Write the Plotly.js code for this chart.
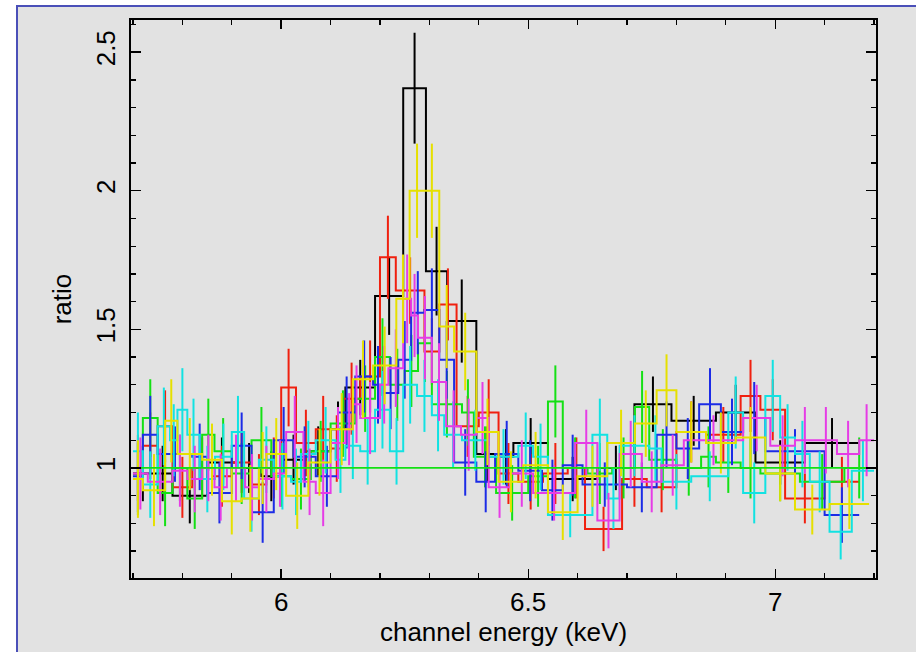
<!DOCTYPE html>
<html>
<head>
<meta charset="utf-8">
<script src="https://cdn.plot.ly/plotly-3.0.1.min.js"></script>
<style>
html,body{margin:0;padding:0;background:#ffffff;width:916px;height:652px;overflow:hidden;}
#frame{position:absolute;left:16px;top:5px;width:898px;height:645px;border-left:2px solid #4a4fb8;border-top:2px solid #4a4fb8;background:#e2e2e2;}
#chart{width:898px;height:645px;}
</style>
</head>
<body>
<div id="frame"><div id="chart"></div></div>
<script>
// ---- data (bin edges in keV, data/model ratio, 1-sigma error) ----
const blackEdges = [5.70,5.74,5.78,5.85,5.91,5.96,6.00,6.05,6.10,6.13,6.19,6.247,6.293,6.336,6.395,6.44,6.47,6.54,6.64,6.715,6.79,6.88,6.96,7.06,7.17];
const blackRatio = [0.98,0.98,0.90,1.02,1.00,0.97,1.03,1.06,1.14,1.29,1.62,2.37,1.71,1.53,1.05,1.04,1.09,0.96,1.00,1.23,1.17,1.20,1.02,1.09];
const blackErr   = [0.10,0.10,0.10,0.09,0.09,0.09,0.09,0.09,0.10,0.10,0.14,0.20,0.16,0.15,0.10,0.10,0.09,0.08,0.08,0.10,0.09,0.10,0.08,0.09];

const redEdges = [5.70,5.72,5.75,5.78,5.82,5.86,5.90,5.94,5.97,6.00,6.03,6.07,6.10,6.125,6.16,6.20,6.232,6.29,6.32,6.355,6.40,6.44,6.48,6.53,6.58,6.615,6.69,6.74,6.80,6.86,6.93,6.97,7.02,7.10,7.17];
const redRatio = [1.00,1.08,1.15,0.93,1.00,0.97,1.02,0.94,1.00,1.29,1.09,1.14,1.07,1.25,1.33,1.76,1.64,1.42,1.59,1.15,1.20,0.98,0.95,0.98,1.00,0.78,0.96,0.93,1.13,1.12,1.26,1.21,0.89,0.95];
const redErr   = [0.12,0.12,0.13,0.11,0.11,0.11,0.11,0.11,0.11,0.14,0.12,0.12,0.12,0.13,0.13,0.15,0.12,0.12,0.13,0.11,0.12,0.11,0.10,0.11,0.11,0.08,0.10,0.09,0.11,0.10,0.13,0.11,0.09,0.09];

const greenEdges = [5.70,5.72,5.75,5.78,5.81,5.84,5.865,5.90,5.94,5.98,6.02,6.06,6.10,6.15,6.19,6.22,6.25,6.277,6.305,6.366,6.39,6.435,6.50,6.54,6.57,6.62,6.67,6.716,6.745,6.80,6.85,6.88,6.93,6.97,7.05,7.14,7.20];
const greenRatio = [0.96,1.18,0.91,1.00,0.89,1.12,1.06,0.98,1.10,0.97,0.96,1.06,1.16,1.25,1.40,1.30,1.35,1.45,1.23,1.20,1.04,0.91,0.97,1.24,1.00,0.98,1.00,1.22,1.03,1.00,1.04,1.02,1.00,0.98,0.95,1.00];
const greenErr   = [0.13,0.14,0.12,0.12,0.11,0.13,0.12,0.11,0.12,0.11,0.11,0.11,0.12,0.12,0.14,0.13,0.13,0.14,0.12,0.12,0.11,0.10,0.11,0.13,0.11,0.11,0.11,0.13,0.11,0.10,0.11,0.11,0.11,0.10,0.10,0.11];

const blueEdges = [5.70,5.72,5.75,5.82,5.85,5.90,5.94,5.985,6.025,6.07,6.115,6.15,6.186,6.206,6.237,6.263,6.29,6.32,6.35,6.395,6.433,6.48,6.528,6.57,6.61,6.70,6.76,6.80,6.846,6.89,6.935,6.98,7.10,7.17];
const blueRatio = [0.97,1.12,1.05,1.04,0.91,1.08,0.84,1.10,1.04,0.97,1.20,1.33,1.30,1.27,1.39,1.56,1.57,1.39,1.02,0.95,1.05,0.99,0.92,1.01,0.94,0.93,1.12,1.07,1.23,1.13,1.18,1.06,0.83];
const blueErr   = [0.13,0.14,0.10,0.12,0.11,0.12,0.11,0.12,0.11,0.11,0.13,0.13,0.14,0.13,0.14,0.15,0.15,0.14,0.12,0.11,0.12,0.11,0.11,0.11,0.08,0.09,0.12,0.11,0.13,0.12,0.13,0.08,0.10];

const cyanEdges = [5.70,5.72,5.75,5.775,5.79,5.81,5.835,5.866,5.90,5.925,5.955,5.985,6.02,6.04,6.07,6.11,6.13,6.16,6.19,6.22,6.247,6.275,6.305,6.33,6.366,6.42,6.48,6.51,6.54,6.63,6.66,6.685,6.745,6.77,6.83,6.905,6.935,6.98,7.01,7.04,7.07,7.11,7.155,7.20];
const cyanRatio = [1.06,0.94,1.15,1.10,1.21,1.12,0.96,1.04,1.13,0.89,1.03,0.97,0.95,1.05,1.10,1.03,1.08,1.06,1.21,1.06,1.30,1.26,1.19,1.12,1.10,1.04,1.08,1.04,0.83,1.12,0.89,1.08,1.07,0.95,0.97,1.20,0.91,1.26,1.11,1.05,0.95,0.77,0.99];
const cyanErr   = [0.14,0.12,0.14,0.13,0.15,0.13,0.12,0.12,0.13,0.12,0.12,0.12,0.12,0.12,0.12,0.12,0.12,0.12,0.14,0.12,0.14,0.13,0.13,0.12,0.11,0.10,0.12,0.12,0.08,0.13,0.11,0.11,0.12,0.10,0.09,0.13,0.11,0.13,0.12,0.12,0.11,0.10,0.11];

const magentaEdges = [5.70,5.73,5.78,5.81,5.84,5.865,5.89,5.927,5.955,5.985,6.01,6.045,6.07,6.10,6.13,6.145,6.16,6.20,6.217,6.247,6.263,6.277,6.305,6.334,6.364,6.395,6.42,6.464,6.51,6.595,6.64,6.685,6.73,6.77,6.815,6.935,6.99,7.04,7.08,7.125,7.17,7.20];
const magentaRatio = [0.98,0.95,0.99,0.96,1.00,0.93,1.00,0.93,0.96,0.98,1.13,0.95,0.91,1.09,1.14,1.23,1.18,1.30,1.36,1.61,1.55,1.47,1.31,1.15,1.12,1.18,0.93,0.98,0.91,1.09,0.81,1.05,0.95,1.01,1.10,1.18,1.08,1.10,1.10,1.05,1.10];
const magentaErr   = [0.13,0.12,0.13,0.12,0.12,0.12,0.12,0.12,0.12,0.12,0.13,0.12,0.12,0.13,0.13,0.14,0.13,0.14,0.14,0.16,0.15,0.15,0.14,0.13,0.13,0.13,0.11,0.12,0.10,0.12,0.10,0.12,0.11,0.11,0.09,0.12,0.11,0.12,0.12,0.12,0.13];

const yellowEdges = [5.70,5.72,5.765,5.79,5.84,5.88,5.92,5.955,5.97,6.01,6.055,6.10,6.145,6.186,6.233,6.26,6.29,6.32,6.35,6.395,6.44,6.49,6.54,6.60,6.66,6.716,6.76,6.80,6.86,6.92,6.98,7.04,7.11,7.19];
const yellowRatio = [0.96,0.92,1.17,1.05,1.03,0.88,0.89,1.00,1.05,0.90,1.02,1.14,1.32,1.37,1.61,2.00,2.00,1.51,1.42,1.13,0.95,1.01,0.84,0.97,1.09,1.16,1.28,1.13,1.09,1.11,0.98,0.85,0.87];
const yellowErr   = [0.14,0.13,0.15,0.13,0.13,0.12,0.12,0.13,0.13,0.12,0.12,0.13,0.14,0.14,0.16,0.17,0.17,0.15,0.14,0.12,0.11,0.12,0.10,0.11,0.12,0.12,0.13,0.11,0.11,0.11,0.10,0.09,0.09];

const modelX = [5.70, 7.20];
const modelY = [1.0, 1.0];

const xTickVals = [6, 6.5, 7];
const xTickText = ["6", "6.5", "7"];
const yTickVals = [1, 1.5, 2, 2.5];
const yTickText = ["1", "1.5", "2", "2.5"];

// ---- build traces ----
const series = [
  {e: blackEdges,   r: blackRatio,   s: blackErr,   c: '#000000'},
  {e: redEdges,     r: redRatio,     s: redErr,     c: '#f0200f'},
  {e: greenEdges,   r: greenRatio,   s: greenErr,   c: '#14e014'},
  {e: blueEdges,    r: blueRatio,    s: blueErr,    c: '#1c2ce6'},
  {e: cyanEdges,    r: cyanRatio,    s: cyanErr,    c: '#12e2e2'},
  {e: magentaEdges, r: magentaRatio, s: magentaErr, c: '#e63ce6'},
  {e: yellowEdges,  r: yellowRatio,  s: yellowErr,  c: '#e6e000'}
];

const traces = [];
series.forEach(S => {
  const centers = S.r.map((_, i) => (S.e[i] + S.e[i+1]) / 2);
  traces.push({
    x: S.e, y: S.r.concat([S.r[S.r.length-1]]),
    mode: 'lines', line: {shape: 'hv', color: S.c, width: 2},
    hoverinfo: 'skip', showlegend: false
  });
  traces.push({
    x: centers, y: S.r, mode: 'markers',
    marker: {size: 1, color: S.c, opacity: 0},
    error_y: {type: 'data', array: S.s, visible: true, width: 0, thickness: 2, color: S.c},
    hoverinfo: 'skip', showlegend: false
  });
});
traces.push({x: modelX, y: modelY, mode: 'lines', line: {color: '#14e014', width: 1.8}, showlegend: false, hoverinfo: 'skip'});

const font = {family: '"Liberation Sans", Arial, sans-serif', size: 26, color: '#000'};

const layout = {
  width: 898, height: 645,
  margin: {l: 113, r: 40, t: 13, b: 74},
  paper_bgcolor: '#e2e2e2', plot_bgcolor: '#e2e2e2',
  showlegend: false,
  font: font,
  xaxis: {
    range: [5.696, 7.204], showgrid: false, zeroline: false,
    showline: true, linecolor: '#000', linewidth: 1.6, mirror: 'ticks',
    ticks: 'inside', ticklen: 9, tickwidth: 1.4, tickcolor: '#000',
    tickmode: 'array', tickvals: xTickVals, ticktext: xTickText,
    minor: {dtick: 0.1, tick0: 0, ticks: 'inside', ticklen: 5, tickwidth: 1.3, tickcolor: '#000', showgrid: false},
    tickfont: font,
    title: {text: 'channel energy (keV)', font: font, standoff: 2}
  },
  yaxis: {
    range: [0.603, 2.616], showgrid: false, zeroline: false,
    showline: true, linecolor: '#000', linewidth: 1.6, mirror: 'ticks',
    ticks: 'inside', ticklen: 10, tickwidth: 1.4, tickcolor: '#000',
    tickmode: 'array', tickvals: yTickVals, ticktext: yTickText, tickangle: -90,
    ticklabelstandoff: 4,
    minor: {dtick: 0.1, tick0: 0, ticks: 'inside', ticklen: 5, tickwidth: 1.3, tickcolor: '#000', showgrid: false},
    tickfont: font,
    title: {text: 'ratio', font: font, standoff: 12}
  }
};

Plotly.newPlot('chart', traces, layout, {staticPlot: true, displayModeBar: false});
</script>
</body>
</html>
